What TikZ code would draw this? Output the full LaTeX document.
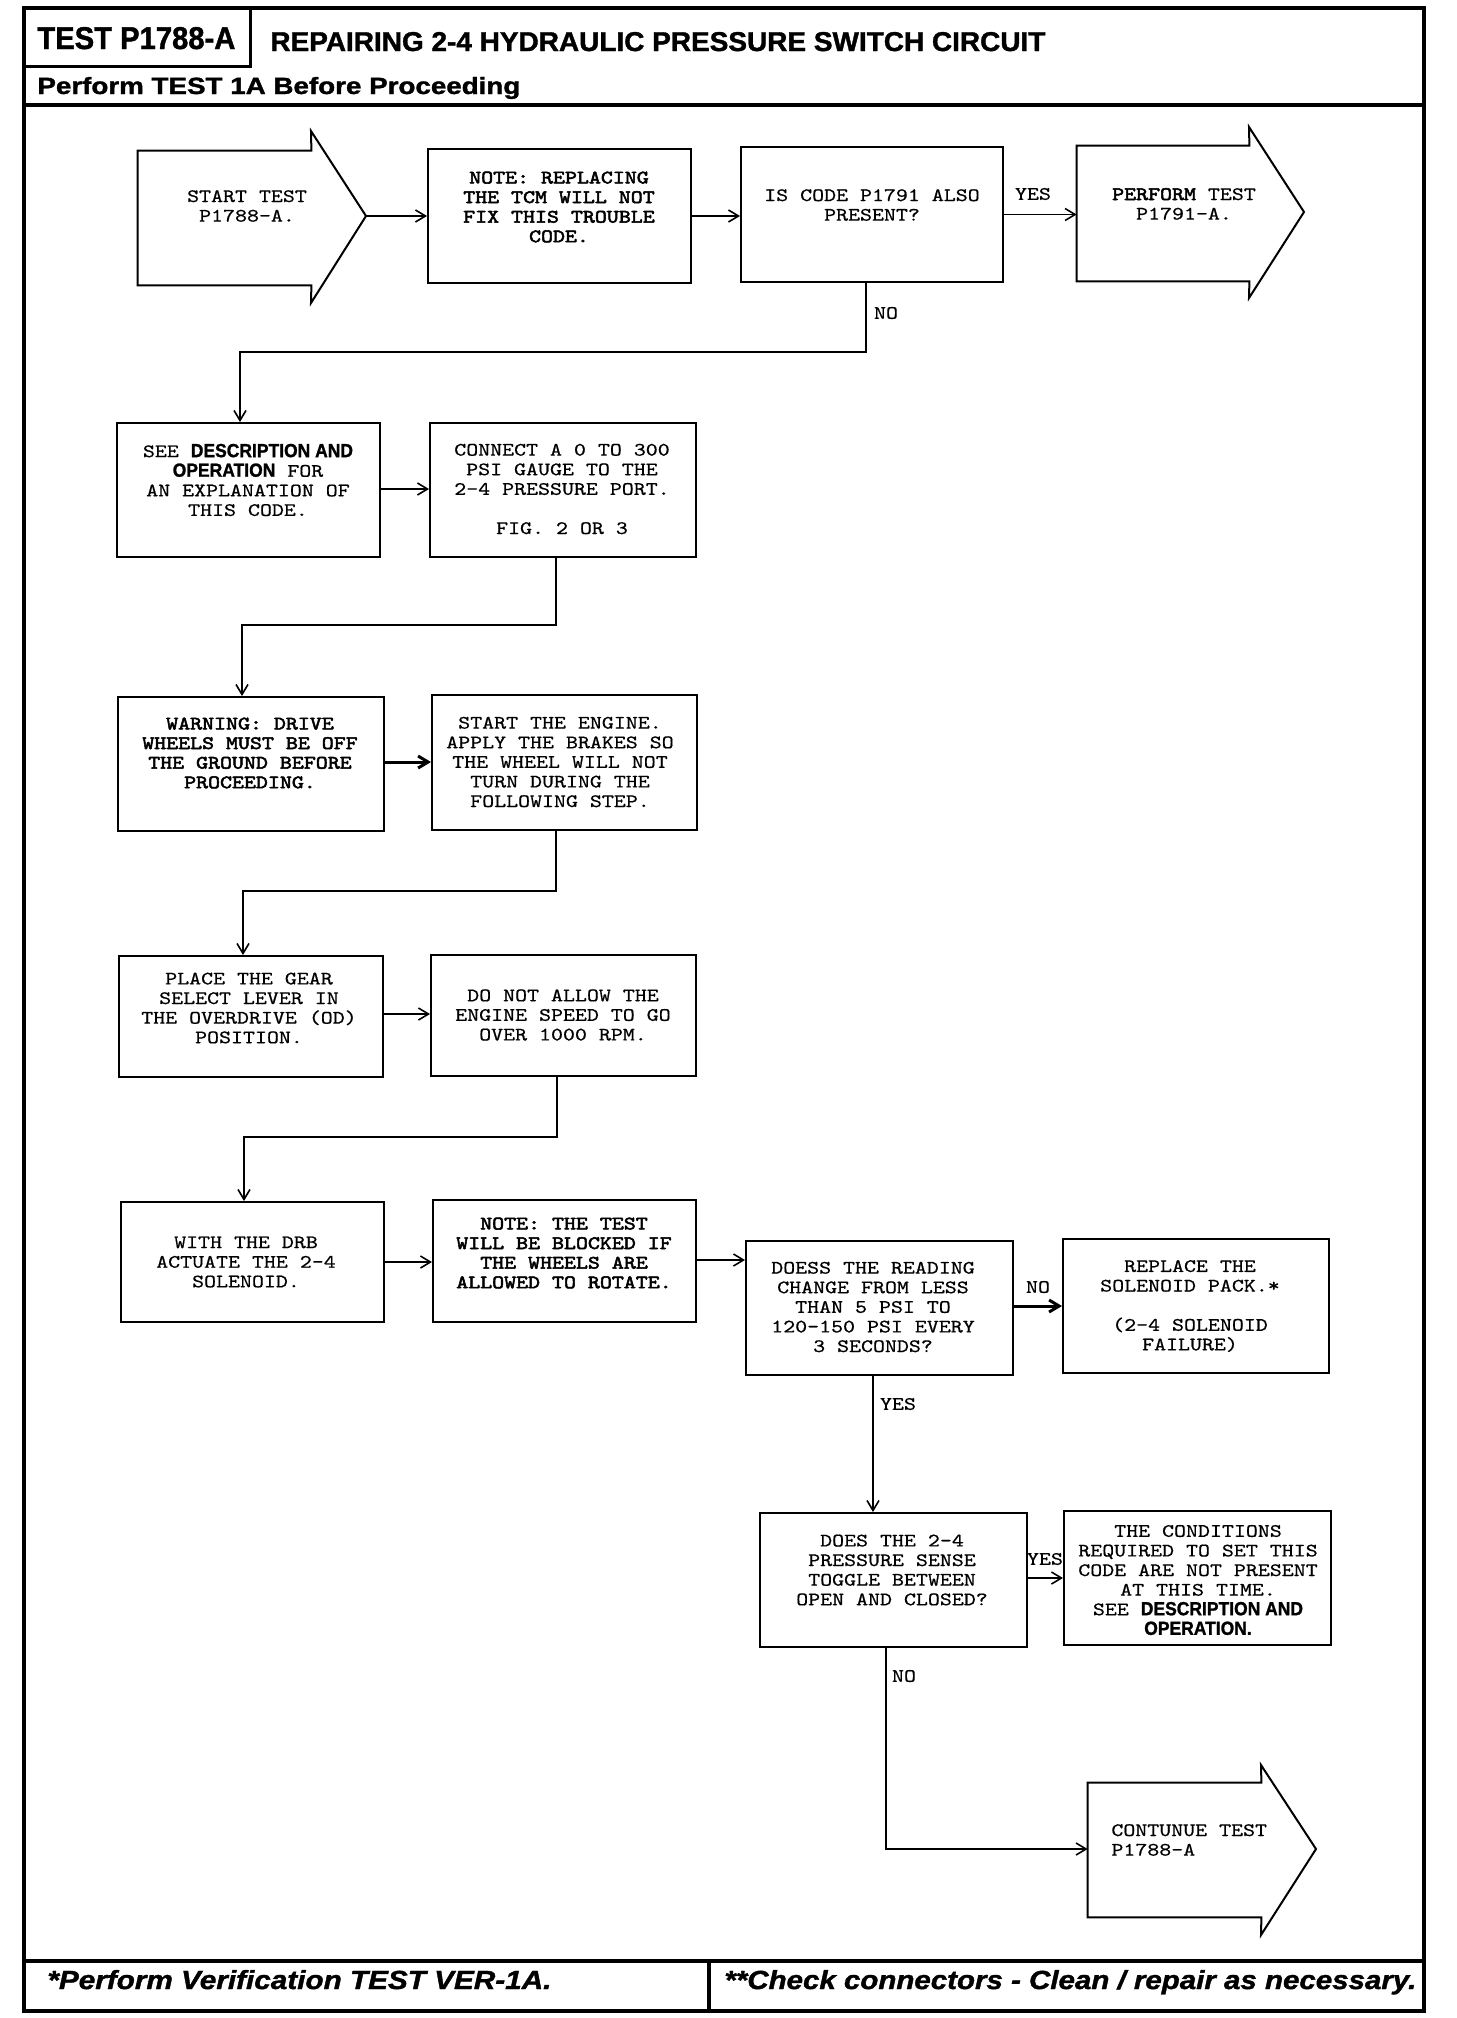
\documentclass[tikz,border=0pt]{standalone}
\usepackage{fontspec}
\usepackage{graphicx}
\setmainfont{Liberation Sans}
\newfontfamily\heavy{Liberation Sans}[UprightFont=* Bold, ItalicFont=* Bold Italic, FakeBold=1.3]
\newfontfamily\monofam{lmmono10-regular.otf}[FakeStretch=1.2, FakeBold=0.6]
\newfontfamily\monobfam{lmmono10-regular.otf}[FakeStretch=1.2, FakeBold=2.8]
\usetikzlibrary{arrows.meta,fit}
\newcommand\sanst[1]{\scalebox{0.92}[1]{\heavy #1}}
\newcommand\bmono[1]{{\monobfam #1}}
\tikzset{
  box/.style={draw, line width=1pt, inner sep=0pt},
  frameline/.style={line width=2pt},
  conn/.style={line width=0.8pt, -{Straight Barb[length=5pt,width=6pt]}},
  thickconn/.style={conn, line width=1.5pt},
  btxt/.style={font={\monofam\fontsize{9.5pt}{9.8pt}\selectfont}, align=center, inner sep=0pt},
  bbtxt/.style={font={\monobfam\fontsize{9.5pt}{9.8pt}\selectfont}, align=center, inner sep=0pt},
  lbl/.style={font={\monofam\fontsize{9.5pt}{10pt}\selectfont}, inner sep=0pt},
  head/.style={anchor=base west, inner sep=0pt}
}
\begin{document}
\begin{tikzpicture}[x=0.5pt,y=-0.5pt]
\useasboundingbox (0,0) rectangle (1456,2018);
\fill[white] (0,0) rectangle (1456,2018);

% frame
\draw[frameline] (24,8) rectangle (1424,2011);
\draw[line width=1.5pt] (24,66) -- (250,66) -- (250,8);
\draw[frameline] (24,105) -- (1424,105);
\draw[frameline] (24,1961) -- (1424,1961);
\draw[frameline] (709,1961) -- (709,2011);

\node[head] (title1) at (37,49) {\resizebox{99pt}{11pt}{\heavy TEST P1788-A}};
\node[head] (title2) at (270,51) {\resizebox{387.5pt}{9.5pt}{\heavy REPAIRING 2-4 HYDRAULIC PRESSURE SWITCH CIRCUIT}};
\node[head] (sub) at (37,94) {\resizebox{241.5pt}{8.5pt}{\heavy Perform TEST 1A Before Proceeding}};
\node[head] (foot1) at (47,1989) {\resizebox{252pt}{9.5pt}{\heavy\itshape *Perform Verification TEST VER-1A.}};
\node[head] (foot2) at (724,1989) {\resizebox{346pt}{9.5pt}{\heavy\itshape **Check connectors - Clean / repair as necessary.}};

% row 1
\node[inner sep=0pt, fit={(138,151) (311,285)}] (start) {};
\draw[line width=1pt] (start.north west) -- (start.north east) -- (311,131) -- (366,216) -- (311,303) -- (start.south east) -- (start.south west) -- cycle;
\coordinate (starttip) at (366,216);
\node[btxt] (tstart) at (247,206) {START TEST\\P1788-A.};

\node[box, fit={(428,149) (691,283)}] (n1) {};
\node[bbtxt] (tn1) at (559,207) {NOTE: REPLACING\\THE TCM WILL NOT\\FIX THIS TROUBLE\\CODE.};

\node[box, fit={(741,147) (1003,282)}] (q1) {};
\node[btxt] (tq1) at (872,205) {IS CODE P1791 ALSO\\PRESENT?};

\node[inner sep=0pt, fit={(1077,146) (1249,281)}] (perf) {};
\draw[line width=1pt] (perf.north west) -- (perf.north east) -- (1249,127) -- (1304,212) -- (1249,298) -- (perf.south east) -- (perf.south west) -- cycle;
\node[btxt] (tperf) at (1184,204) {\bmono{PERFORM} TEST\\P1791-A.};

% row 2
\node[box, fit={(117,423) (380,557)}] (see) {};
\node[btxt] (tsee) at (248,480) {SEE \sanst{DESCRIPTION AND}\\\sanst{OPERATION} FOR\\AN EXPLANATION OF\\THIS CODE.};
\node[box, fit={(430,423) (696,557)}] (conn) {};
\node[btxt] (tconn) at (562,489) {CONNECT A 0 TO 300\\PSI GAUGE TO THE\\2-4 PRESSURE PORT.\\[9.8pt]FIG. 2 OR 3};

% row 3
\node[box, fit={(118,697) (384,831)}] (warn) {};
\node[bbtxt] (twarn) at (250,753) {WARNING: DRIVE\\WHEELS MUST BE OFF\\THE GROUND BEFORE\\PROCEEDING.};
\node[box, fit={(432,695) (697,830)}] (eng) {};
\node[btxt] (teng) at (560,762) {START THE ENGINE.\\APPLY THE BRAKES SO\\THE WHEEL WILL NOT\\TURN DURING THE\\FOLLOWING STEP.};

% row 4
\node[box, fit={(119,956) (383,1077)}] (place) {};
\node[btxt] (tplace) at (249,1008) {PLACE THE GEAR\\SELECT LEVER IN\\THE OVERDRIVE (OD)\\POSITION.};
\node[box, fit={(431,955) (696,1076)}] (donot) {};
\node[btxt] (tdonot) at (563,1015) {DO NOT ALLOW THE\\ENGINE SPEED TO GO\\OVER 1000 RPM.};

% row 5
\node[box, fit={(121,1202) (384,1322)}] (with) {};
\node[btxt] (twith) at (246,1262) {WITH THE DRB\\ACTUATE THE 2-4\\SOLENOID.};
\node[box, fit={(433,1200) (696,1322)}] (n2) {};
\node[bbtxt] (tn2) at (564,1253) {NOTE: THE TEST\\WILL BE BLOCKED IF\\THE WHEELS ARE\\ALLOWED TO ROTATE.};
\node[box, fit={(746,1241) (1013,1375)}] (q2) {};
\node[btxt] (tq2) at (873,1307) {DOESS THE READING\\CHANGE FROM LESS\\THAN 5 PSI TO\\120-150 PSI EVERY\\3 SECONDS?};
\node[box, fit={(1063,1239) (1329,1373)}] (repl) {};
\node[btxt] (trepl) at (1190,1306) {REPLACE THE\\SOLENOID PACK.*\\[9.8pt](2-4 SOLENOID\\FAILURE)};

% row 6
\node[box, fit={(760,1513) (1027,1647)}] (q3) {};
\node[btxt] (tq3) at (892,1570) {DOES THE 2-4\\PRESSURE SENSE\\TOGGLE BETWEEN\\OPEN AND CLOSED?};
\node[box, fit={(1064,1511) (1331,1645)}] (cond) {};
\node[btxt] (tcond) at (1198,1580) {THE CONDITIONS\\REQUIRED TO SET THIS\\CODE ARE NOT PRESENT\\AT THIS TIME.\\SEE \sanst{DESCRIPTION AND}\\\sanst{OPERATION.}};

% row 7
\node[inner sep=0pt, fit={(1088,1783) (1261,1917)}] (cont) {};
\draw[line width=1pt] (cont.north west) -- (cont.north east) -- (1261,1765) -- (1316,1849) -- (1261,1935) -- (cont.south east) -- (cont.south west) -- cycle;
\node[btxt, align=left, anchor=west] (tcont) at (1111,1840) {CONTUNUE TEST\\P1788-A};

% connectors
\draw[conn] (starttip) -- (starttip -| n1.west);
\draw[conn] (n1.east) -- (n1.east -| q1.west);
\draw[conn] (q1.east) -- (q1.east -| perf.west);
\node[lbl] (yes1) at (1033,194) {YES};

\coordinate (b1a) at (866,352);
\coordinate (b1b) at (240,352);
\draw[conn] (q1.south -| b1a) -- (b1a) -- (b1b) -- (b1b |- see.north);
\node[lbl] (no1) at (886,313) {NO};

\draw[conn] (see.east |- 0,489) -- (conn.west |- 0,489);

\coordinate (b2a) at (556,625);
\coordinate (b2b) at (242,625);
\draw[conn] (conn.south -| b2a) -- (b2a) -- (b2b) -- (b2b |- warn.north);

\draw[thickconn] (warn.east |- 0,762) -- (eng.west |- 0,762);

\coordinate (b3a) at (556,891);
\coordinate (b3b) at (243,891);
\draw[conn] (eng.south -| b3a) -- (b3a) -- (b3b) -- (b3b |- place.north);

\draw[conn] (place.east |- 0,1014) -- (donot.west |- 0,1014);

\coordinate (b4a) at (557,1137);
\coordinate (b4b) at (244,1137);
\draw[conn] (donot.south -| b4a) -- (b4a) -- (b4b) -- (b4b |- with.north);

\draw[conn] (with.east |- 0,1262) -- (n2.west |- 0,1262);
\draw[conn] (n2.east |- 0,1260) -- (q2.west |- 0,1260);
\draw[thickconn] (q2.east |- 0,1306) -- (repl.west |- 0,1306);
\node[lbl] (no2) at (1038,1287) {NO};

\coordinate (b5) at (873,1375);
\draw[conn] (q2.south -| b5) -- (b5 |- q3.north);
\node[lbl] (yes2) at (898,1404) {YES};

\draw[conn] (q3.east |- 0,1578) -- (cond.west |- 0,1578);
\node[lbl] (yes3) at (1045,1559) {YES};

\coordinate (b6) at (886,1849);
\draw[conn] (q3.south -| b6) -- (b6) -- (b6 -| cont.west);
\node[lbl] (no3) at (904,1676) {NO};
\end{tikzpicture}
\end{document}
